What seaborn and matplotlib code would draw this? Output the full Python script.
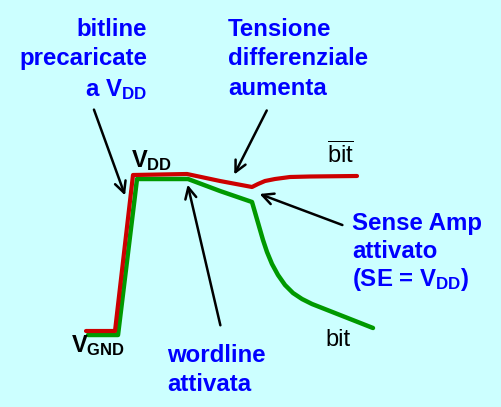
import matplotlib
matplotlib.use("Agg")
import matplotlib.pyplot as plt
import seaborn as sns

# bitline waveforms (x = time, y = screen height, grows downward)
bitbar_t = [86, 115, 133, 187, 220, 252, 258, 265, 275, 290, 310, 357]
bitbar_v = [331, 331, 175, 174, 181, 187, 184, 181, 179, 177, 176.5, 176]
bit_t = [88, 118, 137, 188, 220, 252, 263, 267, 272, 278, 285, 293, 302, 312, 373]
bit_v = [335, 335, 179, 179, 191, 202, 240, 252, 264, 275, 285, 293, 299, 304, 328]

# annotation arrows: (tail x, tail y, head x, head y)
arrows = {
    "precharge": (93, 107, 126, 198),
    "diff": (268, 108, 233, 177),
    "wordline": (221, 328, 187, 182),
    "sense": (345, 226, 257, 193),
}

BG = "#ccffff"
BLUE = "#0000ff"
RED = "#cc0000"
GREEN = "#009900"

sns.set_theme(style="white")
plt.rcParams["font.family"] = ["Liberation Sans", "DejaVu Sans"]
plt.rcParams["mathtext.fontset"] = "custom"
plt.rcParams["mathtext.rm"] = "Liberation Sans:bold"
plt.rcParams["mathtext.sf"] = "Liberation Sans"

fig = plt.figure(figsize=(5.01, 4.07), dpi=100, facecolor=BG)
ax = fig.add_axes([0, 0, 1, 1])
ax.set_facecolor(BG)
ax.set_xlim(0, 501)
ax.set_ylim(407, 0)
ax.axis("off")

sns.lineplot(x=bit_t, y=bit_v, sort=False, estimator=None, color=GREEN, linewidth=3.2, ax=ax)
sns.lineplot(x=bitbar_t, y=bitbar_v, sort=False, estimator=None, color=RED, linewidth=3.0, ax=ax)

for tx, ty, hx, hy in arrows.values():
    ax.annotate("", xy=(hx, hy), xytext=(tx, ty),
                arrowprops=dict(arrowstyle="->", lw=1.8, color="black", mutation_scale=20))

fs = 17.3
bold = dict(fontsize=fs, fontweight="bold", color=BLUE, va="baseline")

# left label
ax.text(147, 36, "bitline", ha="right", **bold)
ax.text(147, 65, "precaricate", ha="right", **bold)
ax.text(147, 96, r"a $\mathrm{V_{DD}}$", ha="right", **bold)

# top middle label
ax.text(228, 36, "Tensione", ha="left", **bold)
ax.text(228, 65, "differenziale", ha="left", **bold)
ax.text(228, 95, "aumenta", ha="left", **bold)

# sense amp label
ax.text(352, 230, "Sense Amp", ha="left", **bold)
ax.text(352, 258, "attivato", ha="left", **bold)
ax.text(352, 286, r"(SE = $\mathrm{V_{DD}}$)", ha="left", **bold)

# wordline label
ax.text(167, 362, "wordline", ha="left", **bold)
ax.text(167, 391, "attivata", ha="left", **bold)

# voltage levels
ax.text(131, 167, r"$\mathrm{V_{DD}}$", fontsize=17, color="black", va="baseline", ha="left")
ax.text(71, 352, r"$\mathrm{V_{GND}}$", fontsize=17, color="black", va="baseline", ha="left")

# bitline names
ax.text(327, 163, r"$\overline{\mathsf{bit}}$", fontsize=17, color="black", va="baseline", ha="left")
ax.text(325, 346, "bit", fontsize=17, color="black", va="baseline", ha="left")

fig.savefig("out.png", dpi=100, facecolor=BG)
